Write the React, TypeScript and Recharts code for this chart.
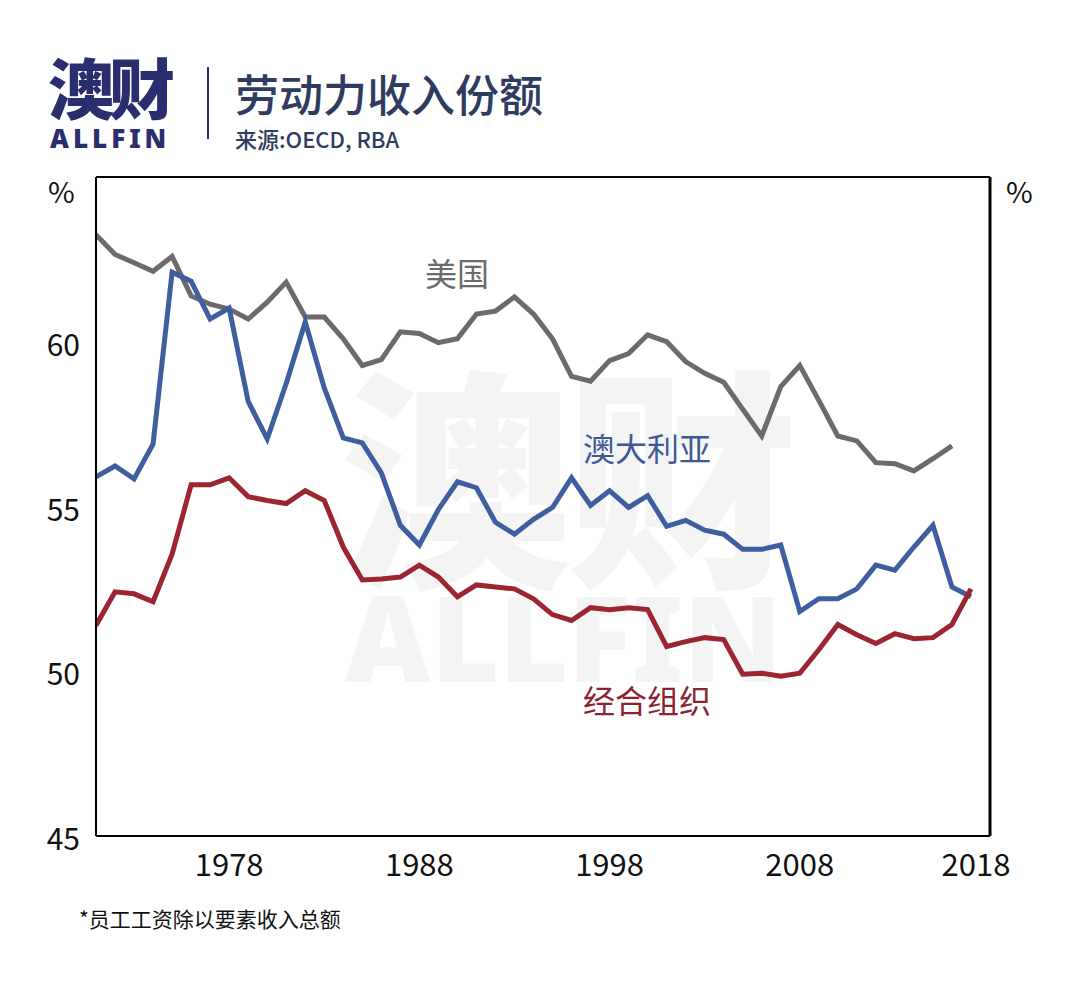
import React from 'react';
import { LineChart, Line, XAxis, YAxis, CartesianGrid, ReferenceLine } from 'recharts';

const years = [
  1971, 1972, 1973, 1974, 1975, 1976, 1977, 1978, 1979, 1980,
  1981, 1982, 1983, 1984, 1985, 1986, 1987, 1988, 1989, 1990,
  1991, 1992, 1993, 1994, 1995, 1996, 1997, 1998, 1999, 2000,
  2001, 2002, 2003, 2004, 2005, 2006, 2007, 2008, 2009, 2010,
  2011, 2012, 2013, 2014, 2015, 2016, 2017,
];

const usShare = [
  63.25, 62.65, 62.4, 62.14, 62.59, 61.39, 61.14, 60.99, 60.69, 61.2,
  61.81, 60.75, 60.75, 60.09, 59.28, 59.46, 60.3, 60.25, 59.97, 60.09,
  60.84, 60.93, 61.36, 60.84, 60.09, 58.95, 58.8, 59.43, 59.64, 60.21,
  60.0, 59.4, 59.04, 58.77, 57.95, 57.14, 58.64, 59.28, 58.22, 57.14,
  56.99, 56.33, 56.3, 56.08, 56.45, 56.84, null,
];

const auShare = [
  55.9, 56.23, 55.84, 56.9, 62.11, 61.84, 60.69, 61.02, 58.19, 57.05,
  58.73, 60.6, 58.6, 57.08, 56.93, 56.02, 54.43, 53.83, 54.91, 55.75,
  55.57, 54.52, 54.16, 54.61, 54.97, 55.87, 55.03, 55.48, 54.97, 55.33,
  54.4, 54.58, 54.28, 54.16, 53.7, 53.7, 53.83, 51.81, 52.2, 52.2,
  52.5, 53.22, 53.07, 53.77, 54.43, 52.56, 52.26,
];

const oecdShare = [
  51.39, 52.41, 52.35, 52.11, 53.55, 55.66, 55.66, 55.87, 55.3, 55.18,
  55.09, 55.48, 55.18, 53.77, 52.77, 52.8, 52.86, 53.22, 52.86, 52.26,
  52.62, 52.56, 52.5, 52.2, 51.72, 51.54, 51.93, 51.87, 51.93, 51.87,
  50.75, 50.9, 51.02, 50.96, 49.91, 49.94, 49.85, 49.94, 50.65, 51.42,
  51.11, 50.84, 51.14, 50.99, 51.02, 51.42, 52.5,
];

const xTicks = [1978, 1988, 1998, 2008, 2018];
const yTicks = [45, 50, 55, 60];

const data = years.map((year, i) => ({
  year,
  us: usShare[i],
  au: auShare[i],
  oecd: oecdShare[i],
}));

const FONT = '"Noto Sans CJK SC", "Noto Sans", sans-serif';
const NAVY = '#2b2e6e';
const TITLE = '#2f3b5f';

const XTick = (props: any) => {
  const { x, y, payload } = props;
  const last = payload.value === 2018;
  return (
    <text x={last ? x - 14 : x} y={y} dy={40} textAnchor="middle" fontSize={31} fill="#111" fontFamily={FONT}>
      {payload.value}
    </text>
  );
};

const YTick = (props: any) => {
  const { x, y, payload, textAnchor } = props;
  return (
    <text x={x} y={y} dy={14} textAnchor={textAnchor} fontSize={30} fill="#111" fontFamily={FONT}>
      {payload.value}
    </text>
  );
};

const abs = (style: React.CSSProperties): React.CSSProperties => ({
  position: 'absolute',
  whiteSpace: 'nowrap',
  lineHeight: 1,
  fontFamily: FONT,
  ...style,
});

export default function App() {
  return (
    <div style={{ position: 'relative', width: 1067, height: 984, background: '#fff', overflow: 'hidden' }}>
      <style>{'body{margin:0}'}</style>

      {/* header */}
      <div style={abs({ left: 48, top: 52, fontSize: 66, fontWeight: 900, color: NAVY, letterSpacing: -5 })}>澳财</div>
      <div style={abs({ left: 50, top: 125, fontSize: 26, fontWeight: 900, color: NAVY, letterSpacing: 4, fontFamily: '"Noto Sans", sans-serif' })}>ALLFIN</div>
      <div style={{ position: 'absolute', left: 207, top: 67, width: 2, height: 72, background: NAVY }} />
      <div style={abs({ left: 235, top: 71, fontSize: 44, color: TITLE, fontWeight: 500 })}>劳动力收入份额</div>
      <div style={abs({ left: 235, top: 127, fontSize: 22, color: TITLE, fontWeight: 500 })}>来源:OECD, RBA</div>

      {/* watermark */}
      <div style={abs({ left: 340, top: 352, fontSize: 232, fontWeight: 900, color: '#f4f4f4', letterSpacing: -6 })}>澳财</div>
      <div style={abs({ left: 345, top: 578, fontSize: 118, fontWeight: 900, color: '#f4f4f4', fontFamily: '"Noto Sans", sans-serif' })}>ALLFIN</div>

      <div style={{ position: 'absolute', left: 0, top: 0 }}>
        <LineChart width={1067} height={900} data={data} margin={{ top: 177, right: 17, left: 36, bottom: 14 }}>
          <CartesianGrid vertical={false} stroke="#c9c9c9" strokeDasharray="2 3" />
          <XAxis
            dataKey="year"
            type="number"
            domain={[1971, 2018]}
            ticks={xTicks}
            tick={<XTick />}
            tickLine={false}
            tickSize={0}
            tickMargin={0}
            height={50}
            axisLine={{ stroke: '#000', strokeWidth: 2 }}
            allowDataOverflow
          />
          <YAxis
            yAxisId="left"
            domain={[45, 65]}
            ticks={yTicks}
            tick={<YTick />}
            tickLine={false}
            tickSize={0}
            tickMargin={16}
            width={60}
            axisLine={{ stroke: '#000', strokeWidth: 2 }}
            allowDataOverflow
          />
          <YAxis
            yAxisId="right"
            orientation="right"
            domain={[45, 65]}
            ticks={yTicks}
            tick={<YTick />}
            tickLine={false}
            tickSize={0}
            tickMargin={13}
            width={60}
            axisLine={{ stroke: '#000', strokeWidth: 3 }}
          />
          <ReferenceLine yAxisId="left" y={65} stroke="#000" strokeWidth={2} />
          <Line yAxisId="left" type="linear" dataKey="us" stroke="#6b6b6b" strokeWidth={5} dot={false} isAnimationActive={false} />
          <Line yAxisId="left" type="linear" dataKey="au" stroke="#3f5e9f" strokeWidth={5} dot={false} isAnimationActive={false} />
          <Line yAxisId="left" type="linear" dataKey="oecd" stroke="#9b2530" strokeWidth={5} dot={false} isAnimationActive={false} />
        </LineChart>
      </div>

      {/* axis units */}
      <div style={abs({ left: 48, top: 176, fontSize: 29, color: '#111' })}>%</div>
      <div style={abs({ left: 1006, top: 176, fontSize: 29, color: '#111' })}>%</div>

      {/* series labels */}
      <div style={abs({ left: 425, top: 256, fontSize: 32, color: '#6b6b6b' })}>美国</div>
      <div style={abs({ left: 583, top: 431, fontSize: 32, color: '#3d5a96' })}>澳大利亚</div>
      <div style={abs({ left: 583, top: 683, fontSize: 32, color: '#8c2430' })}>经合组织</div>

      {/* footnote */}
      <div style={abs({ left: 79, top: 908, fontSize: 21, color: '#111' })}>*员工工资除以要素收入总额</div>
    </div>
  );
}
